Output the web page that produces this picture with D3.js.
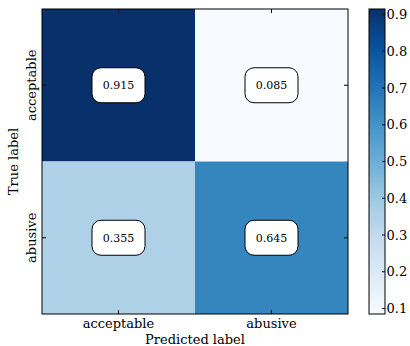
<!DOCTYPE html>
<html>
<head>
<meta charset="utf-8">
<script src="https://cdn.jsdelivr.net/npm/d3@7"></script>
<style>
  html, body { margin: 0; padding: 0; background: #fff; }
  svg { display: block; font-family: "DejaVu Serif", serif; }
</style>
</head>
<body>
<svg id="chart" width="410" height="346"></svg>
<script>
// Normalised confusion matrix
const trueLabels = ["acceptable", "abusive"];
const predLabels = ["acceptable", "abusive"];
const matrix = [
  [0.915, 0.085],
  [0.355, 0.645]
];
const colorbarTicks = [0.1, 0.2, 0.3, 0.4, 0.5, 0.6, 0.7, 0.8, 0.9];
// Blues colour map anchors
const bluesAnchors = ["#f7fbff", "#deebf7", "#c6dbef", "#9ecae1", "#6baed6",
                      "#4292c6", "#2171b5", "#08519c", "#08306b"];

const svg = d3.select("#chart");
const plot = { x0: 42, x1: 348, y0: 9, y1: 314 };
const cbar = { x0: 369, x1: 385 };
const fontSize = 13;

const cells = matrix.flatMap((row, i) => row.map((v, j) => ({ i, j, v })));
const vmin = d3.min(cells, d => d.v), vmax = d3.max(cells, d => d.v);

const blues = d3.scaleLinear()
  .domain(d3.range(bluesAnchors.length).map(k => k / (bluesAnchors.length - 1)))
  .range(bluesAnchors)
  .interpolate(d3.interpolateRgb);
const norm = d3.scaleLinear().domain([vmin, vmax]).range([0, 1]);
const color = v => blues(norm(v));

const x = d3.scaleBand().domain(predLabels).range([plot.x0, plot.x1]);
const y = d3.scaleBand().domain(trueLabels).range([plot.y0, plot.y1]);

// Heatmap cells
svg.append("g").selectAll("rect").data(cells).join("rect")
  .attr("x", d => x(predLabels[d.j]))
  .attr("y", d => y(trueLabels[d.i]))
  .attr("width", x.bandwidth())
  .attr("height", y.bandwidth())
  .attr("fill", d => color(d.v));

// Value annotations in rounded boxes
const ann = svg.append("g").selectAll("g").data(cells).join("g")
  .attr("transform", d => `translate(${x(predLabels[d.j]) + x.bandwidth() / 2},${y(trueLabels[d.i]) + y.bandwidth() / 2})`);
ann.append("rect")
  .attr("x", -26.5).attr("y", -17.5).attr("width", 53).attr("height", 35)
  .attr("rx", 9).attr("ry", 9)
  .attr("fill", "#fff").attr("stroke", "#000").attr("stroke-width", 1);
ann.append("text")
  .attr("text-anchor", "middle").attr("dy", "0.35em")
  .attr("font-size", 11).attr("fill", "#000")
  .text(d => d.v.toFixed(3));

// Inward ticks on all four sides
const tickLen = 4;
const ticks = svg.append("g").attr("stroke", "#000").attr("stroke-width", 1);
predLabels.forEach(p => {
  const cx = x(p) + x.bandwidth() / 2;
  ticks.append("line").attr("x1", cx).attr("x2", cx).attr("y1", plot.y1).attr("y2", plot.y1 - tickLen);
  ticks.append("line").attr("x1", cx).attr("x2", cx).attr("y1", plot.y0).attr("y2", plot.y0 + tickLen);
});
trueLabels.forEach(t => {
  const cy = y(t) + y.bandwidth() / 2;
  ticks.append("line").attr("y1", cy).attr("y2", cy).attr("x1", plot.x0).attr("x2", plot.x0 + tickLen);
  ticks.append("line").attr("y1", cy).attr("y2", cy).attr("x1", plot.x1).attr("x2", plot.x1 - tickLen);
});

// Frame
svg.append("rect")
  .attr("x", plot.x0).attr("y", plot.y0)
  .attr("width", plot.x1 - plot.x0).attr("height", plot.y1 - plot.y0)
  .attr("fill", "none").attr("stroke", "#000").attr("stroke-width", 1);

// Tick labels
svg.append("g").selectAll("text").data(predLabels).join("text")
  .attr("x", d => x(d) + x.bandwidth() / 2).attr("y", 328)
  .attr("text-anchor", "middle").attr("font-size", fontSize).text(d => d);
svg.append("g").selectAll("text").data(trueLabels).join("text")
  .attr("transform", d => `translate(36,${y(d) + y.bandwidth() / 2}) rotate(-90)`)
  .attr("text-anchor", "middle").attr("font-size", fontSize).text(d => d);

// Axis titles
svg.append("text")
  .attr("x", (plot.x0 + plot.x1) / 2).attr("y", 343.5)
  .attr("text-anchor", "middle").attr("font-size", fontSize).text("Predicted label");
svg.append("text")
  .attr("transform", `translate(18,${(plot.y0 + plot.y1) / 2}) rotate(-90)`)
  .attr("text-anchor", "middle").attr("font-size", fontSize).text("True label");

// Colour bar
const cbY = d3.scaleLinear().domain([vmin, vmax]).range([plot.y1, plot.y0]);
const grad = svg.append("defs").append("linearGradient")
  .attr("id", "cbgrad").attr("x1", 0).attr("x2", 0).attr("y1", 1).attr("y2", 0);
d3.range(0, 1.0001, 0.0625).forEach(t => {
  grad.append("stop").attr("offset", t).attr("stop-color", blues(t));
});
svg.append("rect")
  .attr("x", cbar.x0).attr("y", plot.y0)
  .attr("width", cbar.x1 - cbar.x0).attr("height", plot.y1 - plot.y0)
  .attr("fill", "url(#cbgrad)").attr("stroke", "#000").attr("stroke-width", 1);
const cbT = svg.append("g");
cbT.selectAll("line").data(colorbarTicks).join("line")
  .attr("x1", cbar.x1).attr("x2", cbar.x1 - 3)
  .attr("y1", d => cbY(d)).attr("y2", d => cbY(d))
  .attr("stroke", "#000");
cbT.selectAll("text").data(colorbarTicks).join("text")
  .attr("x", cbar.x1 + 1.5).attr("y", d => cbY(d)).attr("dy", "0.35em")
  .attr("font-size", fontSize).text(d => d.toFixed(1));
</script>
</body>
</html>
